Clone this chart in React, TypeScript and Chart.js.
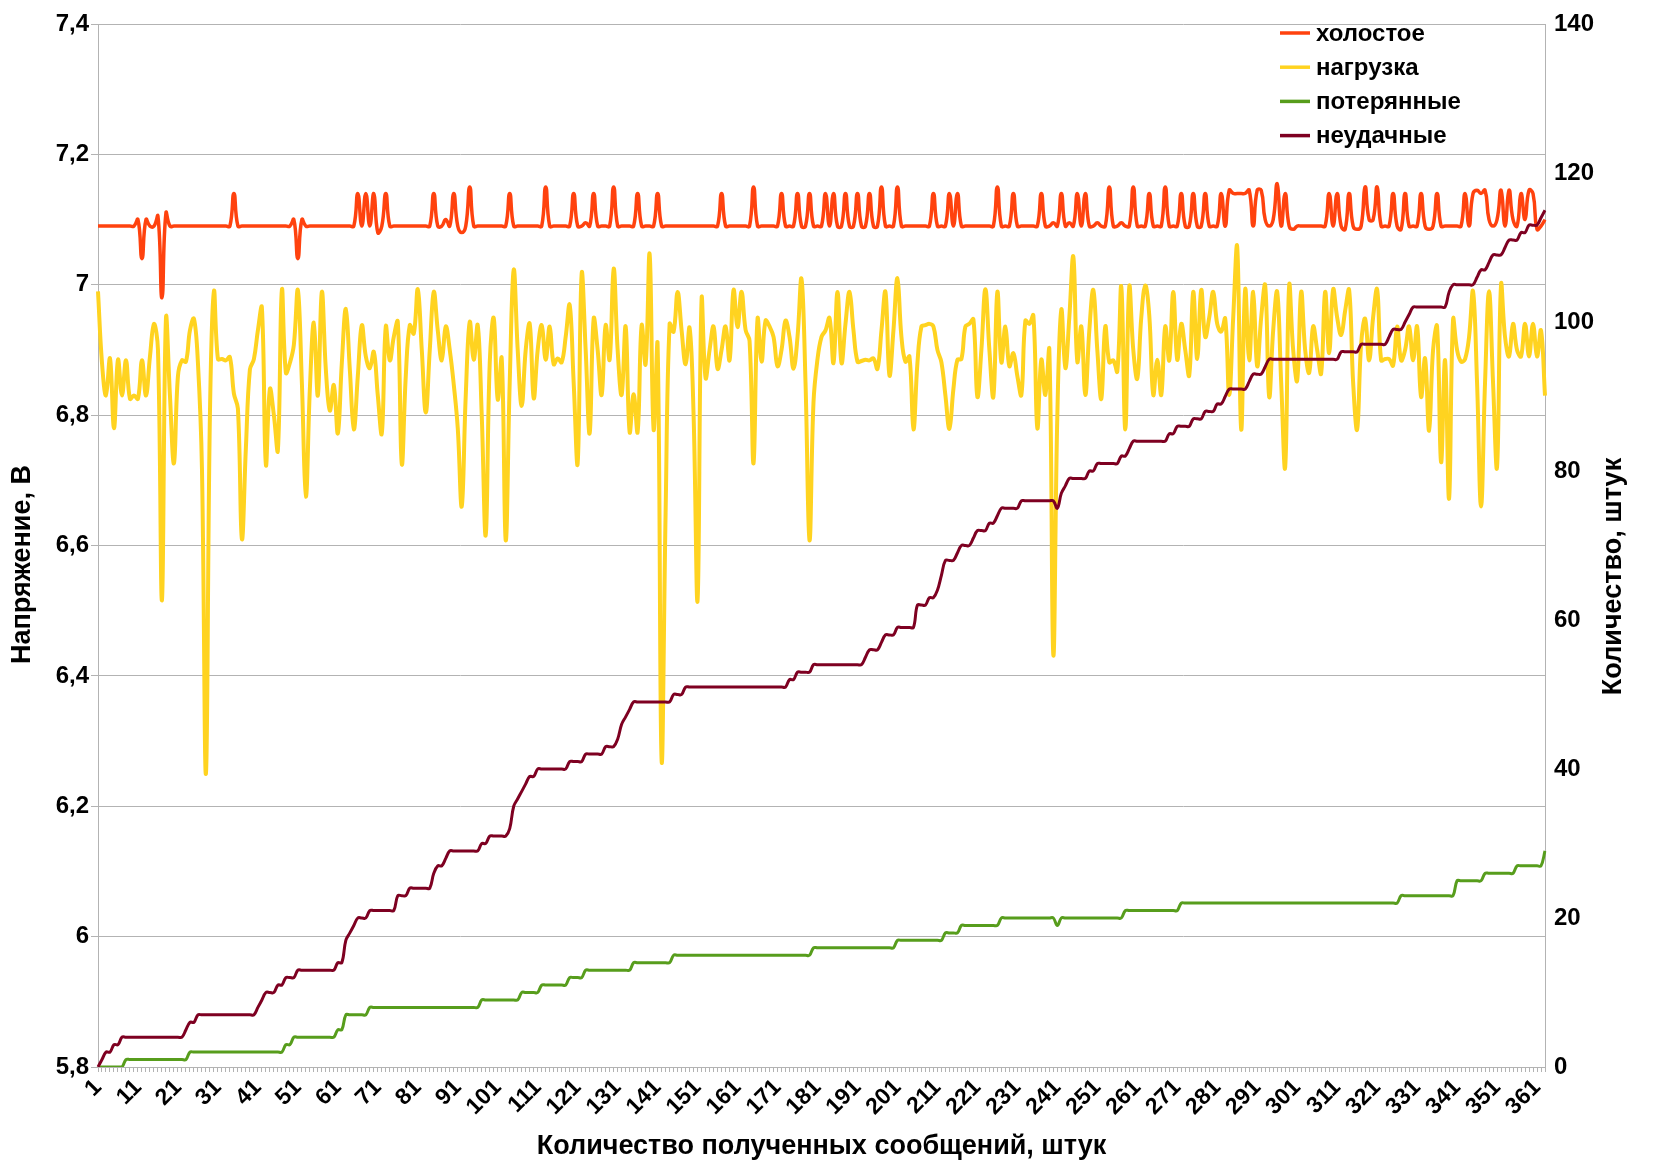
import React, { useEffect, useRef } from "react";
import { Chart, registerables } from "chart.js";

Chart.register(...registerables);

// ---------- data ----------
const categories: string[] = Array.from({ length: 363 }, (_, i) => String(i + 1));

const seriesNames = ["холостое", "нагрузка", "потерянные", "неудачные"];
const seriesColors = ["#ff420e", "#ffd320", "#579d1c", "#7e0021"];

const voltageMin = 5.8;
const voltageMax = 7.4;
const voltageStep = 0.2;
const countMin = 0;
const countMax = 140;
const countStep = 20;

const idle: number[] = [
  7.09,7.09,7.09,7.09,7.09,7.09,7.09,7.09,7.09,7.09,
  7.10,7.04,7.10,7.09,7.09,7.105,6.98,7.11,7.09,7.09,
  7.09,7.09,7.09,7.09,7.09,7.09,7.09,7.09,7.09,7.09,
  7.09,7.09,7.09,7.09,7.14,7.09,7.09,7.09,7.09,7.09,
  7.09,7.09,7.09,7.09,7.09,7.09,7.09,7.09,7.09,7.10,
  7.04,7.10,7.09,7.09,7.09,7.09,7.09,7.09,7.09,7.09,
  7.09,7.09,7.09,7.09,7.09,7.14,7.09,7.14,7.09,7.14,
  7.08,7.09,7.14,7.09,7.09,7.09,7.09,7.09,7.09,7.09,
  7.09,7.09,7.09,7.09,7.14,7.09,7.09,7.10,7.09,7.14,
  7.09,7.08,7.09,7.15,7.09,7.09,7.09,7.09,7.09,7.09,
  7.09,7.09,7.09,7.14,7.09,7.09,7.09,7.09,7.09,7.09,
  7.09,7.09,7.15,7.09,7.09,7.09,7.09,7.09,7.09,7.14,
  7.09,7.09,7.095,7.09,7.14,7.09,7.09,7.09,7.09,7.15,
  7.09,7.09,7.09,7.09,7.09,7.14,7.09,7.09,7.09,7.09,
  7.14,7.09,7.09,7.09,7.09,7.09,7.09,7.09,7.09,7.09,
  7.09,7.09,7.09,7.09,7.09,7.09,7.14,7.09,7.09,7.09,
  7.09,7.09,7.09,7.09,7.15,7.09,7.09,7.09,7.09,7.09,
  7.09,7.14,7.09,7.09,7.09,7.14,7.09,7.09,7.14,7.09,
  7.09,7.09,7.14,7.09,7.14,7.09,7.09,7.14,7.09,7.09,
  7.14,7.09,7.09,7.14,7.09,7.09,7.15,7.09,7.09,7.09,
  7.15,7.09,7.09,7.09,7.09,7.09,7.09,7.09,7.09,7.14,
  7.09,7.09,7.09,7.14,7.09,7.14,7.09,7.09,7.09,7.09,
  7.09,7.09,7.09,7.09,7.09,7.15,7.09,7.09,7.09,7.14,
  7.09,7.09,7.09,7.09,7.09,7.09,7.14,7.09,7.09,7.095,
  7.09,7.14,7.09,7.095,7.09,7.14,7.09,7.14,7.09,7.09,
  7.095,7.09,7.09,7.15,7.09,7.09,7.095,7.09,7.09,7.15,
  7.09,7.09,7.09,7.14,7.09,7.09,7.09,7.15,7.09,7.09,
  7.09,7.14,7.09,7.09,7.14,7.09,7.09,7.14,7.09,7.09,
  7.09,7.14,7.09,7.145,7.14,7.14,7.14,7.14,7.145,7.09,
  7.145,7.145,7.10,7.09,7.10,7.155,7.09,7.14,7.09,7.085,
  7.09,7.09,7.09,7.09,7.09,7.09,7.09,7.09,7.14,7.09,
  7.14,7.09,7.085,7.14,7.09,7.085,7.09,7.15,7.10,7.10,
  7.15,7.09,7.09,7.09,7.14,7.09,7.085,7.14,7.09,7.09,
  7.09,7.14,7.09,7.085,7.09,7.14,7.09,7.09,7.09,7.09,
  7.09,7.09,7.14,7.09,7.14,7.145,7.14,7.145,7.10,7.09,
  7.10,7.145,7.09,7.145,7.10,7.09,7.14,7.10,7.145,7.14,
  7.085,7.09,7.10,
];

const load: number[] = [
  6.99,6.88,6.83,6.887,6.78,6.885,6.83,6.884,6.825,6.83,
  6.825,6.884,6.83,6.89,6.94,6.90,6.516,6.948,6.83,6.726,
  6.86,6.884,6.882,6.93,6.948,6.88,6.72,6.25,6.80,6.99,
  6.886,6.886,6.884,6.889,6.833,6.81,6.61,6.75,6.87,6.886,
  6.93,6.965,6.724,6.84,6.80,6.746,6.992,6.865,6.88,6.908,
  6.992,6.85,6.675,6.84,6.942,6.83,6.989,6.87,6.807,6.846,
  6.772,6.88,6.963,6.87,6.778,6.86,6.938,6.89,6.872,6.897,
  6.83,6.772,6.936,6.884,6.92,6.943,6.725,6.86,6.938,6.925,
  6.993,6.90,6.804,6.90,6.989,6.93,6.884,6.936,6.90,6.847,
  6.78,6.66,6.83,6.943,6.885,6.938,6.80,6.616,6.88,6.949,
  6.824,6.887,6.608,6.85,7.023,6.90,6.814,6.90,6.94,6.826,
  6.90,6.938,6.885,6.936,6.878,6.887,6.881,6.92,6.969,6.85,
  6.726,7.017,6.90,6.772,6.948,6.90,6.831,6.938,6.885,7.025,
  6.90,6.831,6.936,6.774,6.832,6.774,6.938,6.878,7.047,6.778,
  6.908,6.27,6.65,6.94,6.928,6.989,6.93,6.878,6.934,6.80,
  6.516,6.978,6.857,6.90,6.936,6.871,6.90,6.936,6.884,6.992,
  6.935,6.989,6.931,6.914,6.726,6.948,6.882,6.945,6.936,6.92,
  6.875,6.90,6.945,6.92,6.871,6.92,7.009,6.85,6.608,6.82,
  6.886,6.92,6.93,6.949,6.88,6.989,6.88,6.94,6.989,6.93,
  6.882,6.883,6.885,6.884,6.887,6.871,6.93,6.989,6.861,6.93,
  7.01,6.92,6.882,6.89,6.778,6.88,6.936,6.938,6.94,6.936,
  6.90,6.881,6.83,6.779,6.84,6.885,6.886,6.936,6.94,6.947,
  6.828,6.90,6.993,6.90,6.828,6.989,6.881,6.936,6.875,6.895,
  6.86,6.831,6.945,6.94,6.953,6.78,6.885,6.831,6.90,6.432,
  6.80,6.962,6.872,6.95,7.043,6.882,6.936,6.831,6.93,6.992,
  6.90,6.825,6.936,6.881,6.884,6.867,6.997,6.778,6.997,6.90,
  6.856,6.95,6.999,6.953,6.831,6.885,6.831,6.936,6.884,6.989,
  6.885,6.94,6.90,6.861,6.989,6.886,6.992,6.92,6.95,6.989,
  6.94,6.928,6.948,6.831,6.95,7.058,6.778,6.993,6.884,6.989,
  6.875,6.95,6.999,6.828,6.93,6.989,6.85,6.72,6.999,6.90,
  6.853,6.989,6.90,6.865,6.936,6.90,6.864,6.989,6.895,6.993,
  6.95,6.923,6.96,6.992,6.85,6.778,6.909,6.948,6.884,6.95,
  6.993,6.884,6.886,6.886,6.876,6.936,6.884,6.90,6.936,6.884,
  6.936,6.828,6.887,6.776,6.90,6.936,6.728,6.884,6.672,6.947,
  6.90,6.882,6.886,6.92,6.99,6.85,6.66,6.85,6.99,6.85,
  6.72,7.00,6.92,6.89,6.94,6.90,6.89,6.94,6.89,6.94,
  6.89,6.93,6.83,
];

const lost: number[] = [
  0,0,0,0,0,0,0,1,1,1,
  1,1,1,1,1,1,1,1,1,1,
  1,1,1,2,2,2,2,2,2,2,
  2,2,2,2,2,2,2,2,2,2,
  2,2,2,2,2,2,2,3,3,4,
  4,4,4,4,4,4,4,4,4,4,
  5,5,7,7,7,7,7,7,8,8,
  8,8,8,8,8,8,8,8,8,8,
  8,8,8,8,8,8,8,8,8,8,
  8,8,8,8,8,8,9,9,9,9,
  9,9,9,9,9,9,10,10,10,10,
  10,11,11,11,11,11,11,11,12,12,
  12,12,13,13,13,13,13,13,13,13,
  13,13,13,13,14,14,14,14,14,14,
  14,14,14,14,15,15,15,15,15,15,
  15,15,15,15,15,15,15,15,15,15,
  15,15,15,15,15,15,15,15,15,15,
  15,15,15,15,15,15,15,15,15,16,
  16,16,16,16,16,16,16,16,16,16,
  16,16,16,16,16,16,16,16,16,16,
  17,17,17,17,17,17,17,17,17,17,
  17,17,18,18,18,18,19,19,19,19,
  19,19,19,19,19,19,20,20,20,20,
  20,20,20,20,20,20,20,20,20,20,
  19,20,20,20,20,20,20,20,20,20,
  20,20,20,20,20,20,20,21,21,21,
  21,21,21,21,21,21,21,21,21,21,
  21,22,22,22,22,22,22,22,22,22,
  22,22,22,22,22,22,22,22,22,22,
  22,22,22,22,22,22,22,22,22,22,
  22,22,22,22,22,22,22,22,22,22,
  22,22,22,22,22,22,22,22,22,22,
  22,22,22,22,22,22,23,23,23,23,
  23,23,23,23,23,23,23,23,23,23,
  25,25,25,25,25,25,25,26,26,26,
  26,26,26,26,26,27,27,27,27,27,
  27,27,29,
];

const failed: number[] = [
  0,1,2,2,3,3,4,4,4,4,
  4,4,4,4,4,4,4,4,4,4,
  4,4,5,6,6,7,7,7,7,7,
  7,7,7,7,7,7,7,7,7,7,
  8,9,10,10,10,11,11,12,12,12,
  13,13,13,13,13,13,13,13,13,13,
  14,14,17,18,19,20,20,20,21,21,
  21,21,21,21,21,23,23,23,24,24,
  24,24,24,24,26,27,27,28,29,29,
  29,29,29,29,29,29,30,30,31,31,
  31,31,31,32,35,36,37,38,39,39,
  40,40,40,40,40,40,40,40,41,41,
  41,41,42,42,42,42,42,43,43,43,
  44,46,47,48,49,49,49,49,49,49,
  49,49,49,49,50,50,50,51,51,51,
  51,51,51,51,51,51,51,51,51,51,
  51,51,51,51,51,51,51,51,51,51,
  51,51,51,52,52,53,53,53,53,54,
  54,54,54,54,54,54,54,54,54,54,
  54,54,55,56,56,56,57,58,58,58,
  59,59,59,59,59,62,62,62,63,63,
  64,66,68,68,68,69,70,70,70,71,
  72,72,72,73,73,74,75,75,75,75,
  75,76,76,76,76,76,76,76,76,76,
  75,77,78,79,79,79,79,79,80,80,
  81,81,81,81,81,81,82,82,83,84,
  84,84,84,84,84,84,84,84,85,85,
  86,86,86,86,87,87,87,88,88,88,
  89,89,90,91,91,91,91,91,92,93,
  93,93,94,95,95,95,95,95,95,95,
  95,95,95,95,95,95,95,95,95,95,
  95,96,96,96,96,96,97,97,97,97,
  97,97,97,98,99,99,99,100,101,102,
  102,102,102,102,102,102,102,102,104,105,
  105,105,105,105,105,106,107,107,108,109,
  109,109,110,111,111,111,112,112,113,113,
  113,114,115,
];

// ---------- styling ----------
const FONT = "'Liberation Sans', Arial, sans-serif";
const GRID = "#b3b3b3";

const legendPlugin = {
  id: "insideLegend",
  afterDraw(chart: any) {
    const { ctx, chartArea } = chart;
    ctx.save();
    ctx.font = `bold 24px ${FONT}`;
    ctx.textBaseline = "middle";
    ctx.textAlign = "left";
    const x0 = chartArea.right - 265;
    const y0 = chartArea.top + 9;
    chart.data.datasets.forEach((ds: any, i: number) => {
      const y = y0 + i * 34.2;
      ctx.strokeStyle = ds.borderColor;
      ctx.lineWidth = 3.5;
      ctx.beginPath();
      ctx.moveTo(x0, y);
      ctx.lineTo(x0 + 30, y);
      ctx.stroke();
      ctx.fillStyle = "#000";
      ctx.fillText(ds.label, x0 + 36, y + 1);
    });
    ctx.restore();
  },
};

const axisTitlesPlugin = {
  id: "axisTitles",
  afterDraw(chart: any) {
    const { ctx, chartArea } = chart;
    const mid = (chartArea.top + chartArea.bottom) / 2;
    ctx.save();
    ctx.font = `bold 27px ${FONT}`;
    ctx.fillStyle = "#000";
    ctx.textAlign = "center";
    ctx.textBaseline = "middle";
    // left
    ctx.save();
    ctx.translate(23, mid + 19);
    ctx.rotate(-Math.PI / 2);
    ctx.fillText("Напряжение, В", 0, 0);
    ctx.restore();
    // right
    ctx.save();
    ctx.translate(chartArea.right + 69, mid + 31);
    ctx.rotate(-Math.PI / 2);
    ctx.fillText("Количество, штук", 0, 0);
    ctx.restore();
    ctx.restore();
  },
};

export default function App() {
  const canvasRef = useRef<HTMLCanvasElement | null>(null);

  useEffect(() => {
    if (!canvasRef.current) return;
    const chart = new Chart(canvasRef.current, {
      type: "line",
      data: {
        labels: categories,
        datasets: [
          { label: seriesNames[0], data: idle, borderColor: seriesColors[0], borderWidth: 3.5, yAxisID: "y", order: 4, tension: 0.5 },
          { label: seriesNames[1], data: load, borderColor: seriesColors[1], borderWidth: 4, yAxisID: "y", order: 3, tension: 0.4 },
          { label: seriesNames[2], data: lost, borderColor: seriesColors[2], borderWidth: 3, yAxisID: "y1", order: 2, tension: 0.4 },
          { label: seriesNames[3], data: failed, borderColor: seriesColors[3], borderWidth: 3, yAxisID: "y1", order: 1, tension: 0.4 },
        ],
      },
      options: {
        animation: false,
        responsive: false,
        events: [],
        layout: { padding: { top: 24, left: 0, right: 0, bottom: 0 } },
        elements: {
          point: { radius: 0 },
          line: { fill: false },
        },
        plugins: {
          legend: { display: false },
          tooltip: { enabled: false },
        },
        scales: {
          x: {
            type: "category",
            offset: false,
            grid: { display: true, drawOnChartArea: false, drawTicks: true, tickLength: 5, color: GRID },
            border: { display: true, color: GRID },
            ticks: {
              autoSkip: false,
              maxRotation: 45,
              minRotation: 45,
              padding: 2,
              color: "#000",
              font: { family: FONT, size: 23, weight: "bold" },
              callback: (_v: any, index: number) => (index % 10 === 0 ? categories[index] : ""),
            },
            title: {
              display: true,
              text: "Количество полученных сообщений, штук",
              color: "#000",
              font: { family: FONT, size: 27, weight: "bold" },
              padding: { top: 0, bottom: 8 },
            },
            afterFit: (scale: any) => {
              scale.height = 104;
            },
          },
          y: {
            position: "left",
            min: voltageMin,
            max: voltageMax,
            grid: { color: GRID, tickLength: 7 },
            border: { display: true, color: GRID },
            ticks: {
              stepSize: voltageStep,
              padding: 2,
              color: "#000",
              font: { family: FONT, size: 24, weight: "bold" },
              callback: (v: any) => String(Math.round(Number(v) * 10) / 10).replace(".", ","),
            },
            afterFit: (scale: any) => {
              scale.width = 98;
            },
          },
          y1: {
            position: "right",
            min: countMin,
            max: countMax,
            grid: { display: true, drawOnChartArea: false, drawTicks: false, color: GRID },
            border: { display: true, color: GRID },
            ticks: {
              stepSize: countStep,
              padding: 9,
              color: "#000",
              font: { family: FONT, size: 24, weight: "bold" },
            },
            afterFit: (scale: any) => {
              scale.width = 112;
            },
          },
        },
      },
      plugins: [legendPlugin, axisTitlesPlugin],
    } as any);
    return () => chart.destroy();
  }, []);

  return (
    <div style={{ position: "fixed", left: 0, top: 0, width: "1657px", height: "1171px", background: "#fff" }}>
      <canvas ref={canvasRef} width={1657} height={1171} style={{ width: "1657px", height: "1171px", display: "block" }} />
    </div>
  );
}
